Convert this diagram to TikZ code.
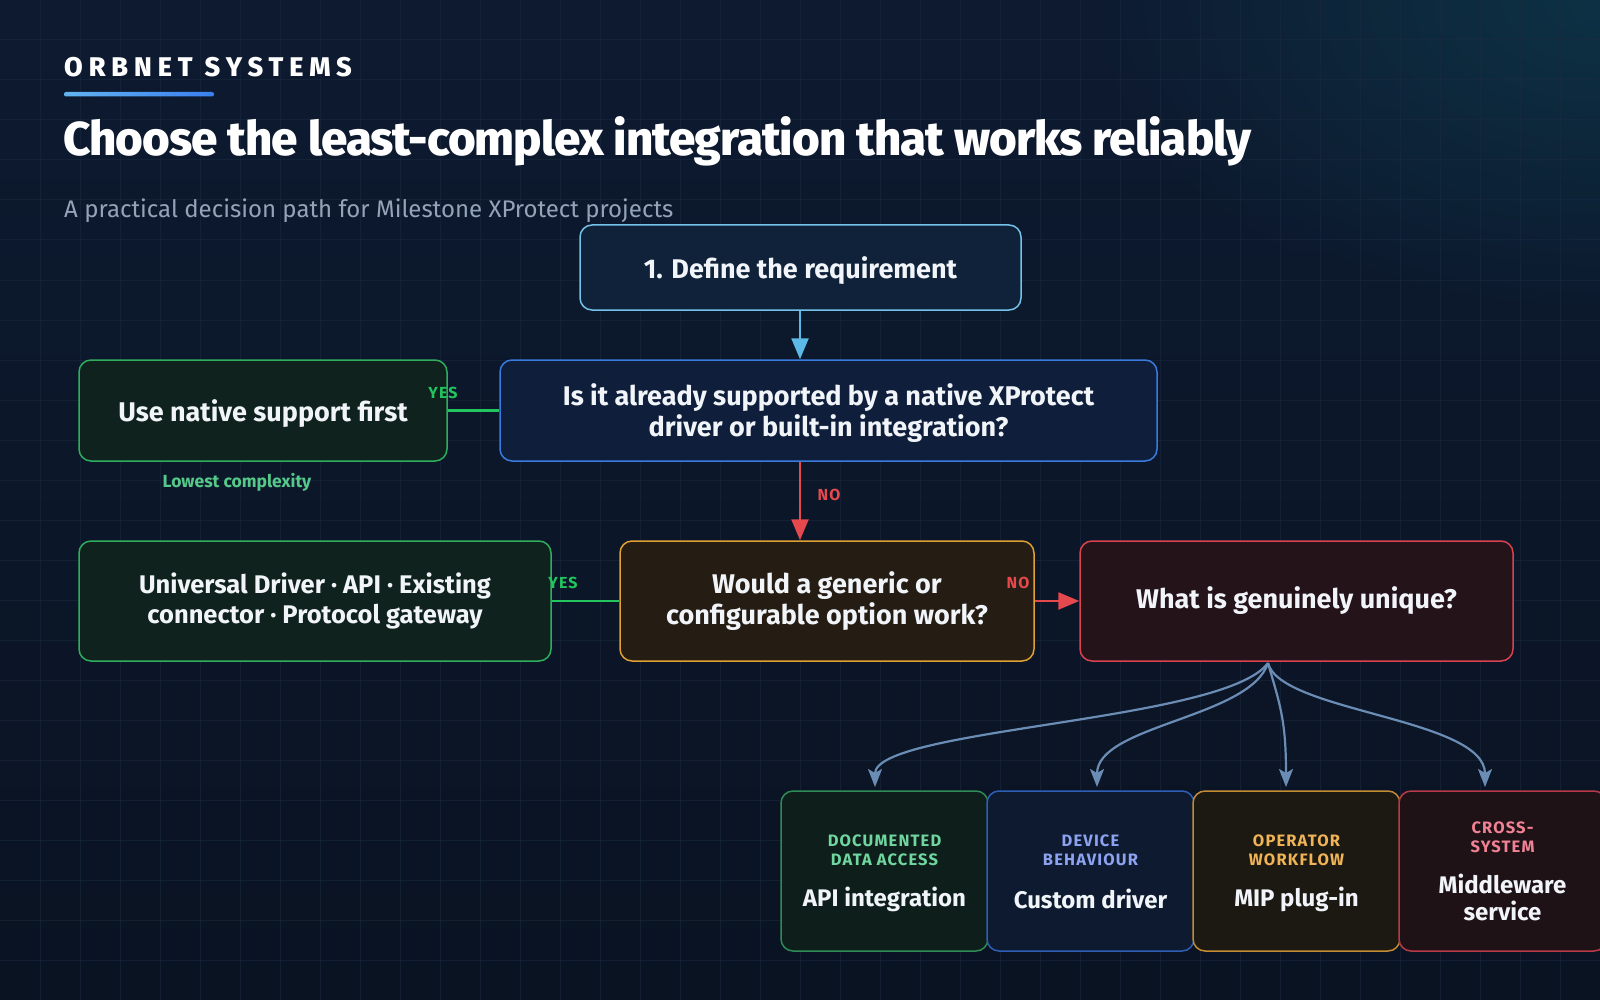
\documentclass[tikz,border=0pt]{standalone}
\usepackage{fontspec}
\setmainfont{Fira Sans}
\IfFontExistsTF{Fira Sans ExtraBold}{\newfontfamily\heavyfont{Fira Sans ExtraBold}}{\newcommand\heavyfont{\bfseries}}
\usetikzlibrary{arrows.meta,fadings,calc}

\definecolor{bgtop}{HTML}{0D1A30}
\definecolor{bgbot}{HTML}{0A1322}
\definecolor{glowc}{HTML}{0E3447}
\definecolor{gridc}{HTML}{1A2A40}
\definecolor{txt}{HTML}{F1F5F9}
\definecolor{subc}{HTML}{94A3B8}
\definecolor{barA}{HTML}{62B4F0}
\definecolor{barB}{HTML}{3B7FF0}
% boxes
\definecolor{defD}{HTML}{74C2EA}\definecolor{defF}{HTML}{10223A}
\definecolor{supD}{HTML}{3A7BE0}\definecolor{supF}{HTML}{0F1F3B}
\definecolor{grnD}{HTML}{2FAE5E}\definecolor{grnF}{HTML}{0F221D}
\definecolor{genD}{HTML}{E0A032}\definecolor{genF}{HTML}{251D14}
\definecolor{uniD}{HTML}{D8434F}\definecolor{uniF}{HTML}{241319}
\definecolor{apiD}{HTML}{2E8C56}\definecolor{apiF}{HTML}{0E1E1B}
\definecolor{cusD}{HTML}{2F5FB4}\definecolor{cusF}{HTML}{0D1A2F}
\definecolor{mipD}{HTML}{C48C32}\definecolor{mipF}{HTML}{1C1812}
\definecolor{midD}{HTML}{B83A48}\definecolor{midF}{HTML}{1F1217}
% labels and connectors
\definecolor{apiT}{HTML}{6FD6A0}
\definecolor{cusT}{HTML}{8DA2F0}
\definecolor{mipT}{HTML}{F0B456}
\definecolor{midT}{HTML}{F08294}
\definecolor{yesc}{HTML}{22C55E}
\definecolor{noc}{HTML}{E5484D}
\definecolor{lowc}{HTML}{55C98A}
\definecolor{bluea}{HTML}{5CB8E6}
\definecolor{fanc}{HTML}{6B8DB5}

\tikzfading[name=glowfade, inner color=transparent!0, outer color=transparent!100]

\newcommand\fsz[2]{\fontsize{#1}{#2}\selectfont}

\tikzset{
  box/.style={draw, rounded corners=12pt, line width=1.5pt, align=center,
    text=txt, inner sep=0pt, font=\bfseries\fsz{27}{31}},
  tag/.style={font=\bfseries\fsz{16}{18}\addfontfeatures{LetterSpace=7}},
  captag/.style={align=center, font=\bfseries\fsz{16.5}{19}\addfontfeatures{LetterSpace=7}},
  conn/.style={line width=2.5pt},
  fan/.style={draw=fanc, line width=2.2pt, -{Stealth[length=18pt,width=14pt,inset=4pt]}},
  tip/.style={-{Triangle[length=21pt,width=17pt]}},
}

\begin{document}
\begin{tikzpicture}[x=1pt,y=-1pt]
\useasboundingbox (0,0) rectangle (1600,1000);
\clip (0,0) rectangle (1600,1000);
% background
\shade[top color=bgtop,bottom color=bgbot] (0,0) rectangle (1600,1000);
\fill[glowc, path fading=glowfade, opacity=0.9] (1600,0) ellipse [x radius=520pt, y radius=330pt];
\foreach \g in {40,80,...,1560} \draw[gridc, line width=1pt, opacity=0.55] (\g,0) -- (\g,1000);
\foreach \g in {40,80,...,960} \draw[gridc, line width=1pt, opacity=0.55] (0,\g) -- (1600,\g);

% header
\node[anchor=base west, inner sep=0pt, text=white, font=\heavyfont\fsz{27}{30}\addfontfeatures{LetterSpace=22}] (brand) at (64,77) {ORBNET SYSTEMS};
\shade[left color=barA, right color=barB, rounded corners=2pt] (64,92) rectangle (214,96.5);
\node[anchor=base west, inner sep=0pt, text=white, font=\heavyfont\fsz{47.5}{50}\addfontfeatures{LetterSpace=-2}] (title) at (63,156) {Choose the least-complex integration that works reliably};
\node[anchor=base west, inner sep=0pt, text=subc, font=\fsz{24}{28}] (sub) at (64,218) {A practical decision path for Milestone XProtect projects};

% main nodes
\node[box, text depth=0pt, draw=defD, fill=defF, minimum width=441pt, minimum height=85pt] (def) at (800.5,267.5) {1. Define the requirement};
\node[box, text depth=0pt, draw=supD, fill=supF, minimum width=657pt, minimum height=101pt] (sup) at (828.5,410.5) {Is it already supported by a native XProtect\\driver or built-in integration?};
\node[box, text depth=0pt, draw=grnD, fill=grnF, minimum width=368pt, minimum height=101pt] (nat) at (263,410.5) {Use native support first};
\node[text=lowc, font=\bfseries\fsz{17.5}{19}] (low) at (237,482) {Lowest complexity};
\node[box, draw=grnD, fill=grnF, minimum width=472pt, minimum height=120pt, font=\bfseries\fsz{25.5}{30.5}] (uni) at (315,601) {Universal Driver · API · Existing\\connector · Protocol gateway};
\node[box, draw=genD, fill=genF, minimum width=414pt, minimum height=120pt] (gen) at (827,601) {Would a generic or\\configurable option work?};
\node[box, draw=uniD, fill=uniF, minimum width=433pt, minimum height=120pt] (uniq) at (1296.5,601) {What is genuinely unique?};

% bottom options
\node[box, draw=apiD, fill=apiF, minimum width=207pt, minimum height=160pt] (api) at (884.5,871) {};
\node[box, draw=cusD, fill=cusF, minimum width=207pt, minimum height=160pt] (cus) at (1090.5,871) {};
\node[box, draw=mipD, fill=mipF, minimum width=207pt, minimum height=160pt] (mip) at (1296.5,871) {};
\node[box, draw=midD, fill=midF, minimum width=207pt, minimum height=160pt] (mid) at (1502.5,871) {};

\node[captag, text=apiT] (apit) at (884.5,850) {DOCUMENTED\\DATA ACCESS};
\node[captag, text=cusT] (cust) at (1090.5,850) {DEVICE\\BEHAVIOUR};
\node[captag, text=mipT] (mipt) at (1296.5,850) {OPERATOR\\WORKFLOW};
\node[captag, text=midT] (midt) at (1502.5,837) {CROSS-\\SYSTEM};
\node[text=txt, font=\bfseries\fsz{24}{27}] (apil) at (884.5,899) {API integration};
\node[text=txt, font=\bfseries\fsz{24}{27}] (cusl) at (1090.5,899) {Custom driver};
\node[text=txt, font=\bfseries\fsz{24}{27}] (mipl) at (1296.5,899) {MIP plug-in};
\node[text=txt, align=center, font=\bfseries\fsz{24}{27}] (midl) at (1502.5,897) {Middleware\\service};

% connectors
\coordinate (ax) at (800,0);
\draw[conn, draw=bluea, tip] (def.south -| ax) -- (sup.north -| ax);
\draw[conn, draw=noc, tip] (sup.south -| ax) -- (gen.north -| ax);
\node[tag, text=noc] (no1) at (829,495) {NO};
\draw[conn, draw=yesc] (sup.west) -- (nat.east);
\node[tag, text=yesc] (yes1) at (443,393) {YES};
\draw[conn, draw=yesc] (gen.west) -- (uni.east);
\node[tag, text=yesc] (yes2) at (563,583) {YES};
\draw[conn, draw=noc, tip] (gen.east) -- (uniq.west);
\node[tag, text=noc] (no2) at (1018,583) {NO};

% fan-out
\coordinate (fs) at (1268,663);
\coordinate (e1) at (875,787);
\coordinate (e2) at (1097,787);
\coordinate (e3) at (1286,787);
\coordinate (e4) at (1485,787);
\draw[fan] (fs) .. controls (1225,722) and (875,728) .. (e1);
\draw[fan] (fs) .. controls (1250,718) and (1097,725) .. (e2);
\draw[fan] (fs) .. controls (1280,705) and (1286,720) .. (e3);
\draw[fan] (fs) .. controls (1280,712) and (1485,718) .. (e4);
\end{tikzpicture}
\end{document}
